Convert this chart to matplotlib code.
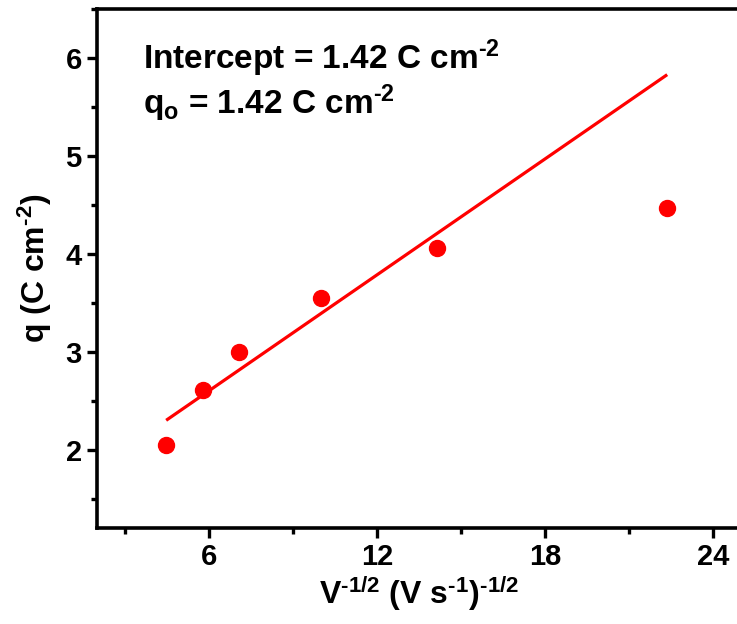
import numpy as np
import matplotlib
matplotlib.use('Agg')
import matplotlib.pyplot as plt
from matplotlib.ticker import MultipleLocator

# measured data: scan rate^-1/2 vs charge
x_vals = [4.47, 5.77, 7.07, 10.0, 14.14, 22.36]
q_vals = [2.05, 2.61, 3.00, 3.55, 4.06, 4.47]

# linear fit line endpoints as drawn
fit_x = [4.47, 22.36]
fit_y = [2.30, 5.83]

x_ticks = [6, 12, 18, 24]
y_ticks = [2, 3, 4, 5, 6]

plt.rcParams['font.family'] = ['Liberation Sans', 'DejaVu Sans']
plt.rcParams['font.weight'] = 'bold'
plt.rcParams['mathtext.fontset'] = 'custom'
plt.rcParams['mathtext.rm'] = 'Liberation Sans:bold'
plt.rcParams['mathtext.bf'] = 'Liberation Sans:bold'
plt.rcParams['mathtext.it'] = 'Liberation Sans:bold'
plt.rcParams['mathtext.default'] = 'bf'

fig = plt.figure(figsize=(7.37, 6.24), dpi=100)
ax = fig.add_axes([0.1316, 0.1538, 0.874, 0.8317])

ax.plot(fit_x, fit_y, color='#ff0000', lw=2.3, solid_capstyle='butt')
ax.plot(x_vals, q_vals, 'o', color='#ff0000', ms=11.5, mec='#ff0000')

ax.set_xlim(2, 25)
ax.set_ylim(1.2, 6.5)
ax.set_xticks(x_ticks)
ax.set_yticks(y_ticks)
ax.xaxis.set_minor_locator(MultipleLocator(3))
ax.yaxis.set_minor_locator(MultipleLocator(0.5))

for s in ax.spines.values():
    s.set_linewidth(2.6)
ax.tick_params(which='major', direction='out', length=7, width=2.4, labelsize=21, pad=4)
ax.tick_params(which='minor', direction='out', length=4, width=2.4)

ax.set_xlabel(r'V$^{\text{-}1/2}$ (V s$^{\text{-}1}$)$^{\text{-}1/2}$', fontsize=23, fontweight='bold', labelpad=2)
ax.set_ylabel(r'q (C cm$^{\text{-}2}$)', fontsize=23, fontweight='bold', labelpad=8)

ax.text(0.072, 0.905, r'Intercept = 1.42 C cm$^{\text{-}2}$', transform=ax.transAxes,
        fontsize=24, fontweight='bold', va='center', ha='left')
ax.text(0.072, 0.818, r'q$_o$ = 1.42 C cm$^{\text{-}2}$', transform=ax.transAxes,
        fontsize=24, fontweight='bold', va='center', ha='left')

plt.savefig('out.png', dpi=100)
